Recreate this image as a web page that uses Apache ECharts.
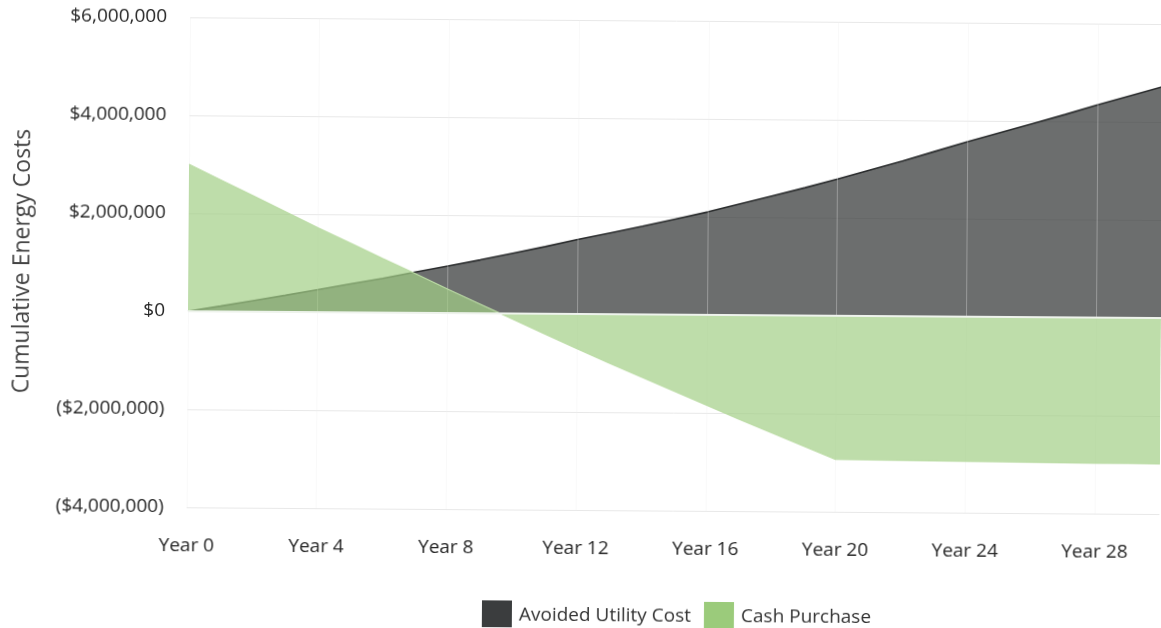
<!DOCTYPE html>
<html>
<head>
<meta charset="utf-8">
<script src="https://cdn.jsdelivr.net/npm/echarts@6/dist/echarts.min.js"></script>
<style>
  html, body { margin: 0; padding: 0; background: #ffffff; }
  #chart { width: 1161px; height: 628px; transform: rotate(0.4deg); transform-origin: 50% 50%; }
</style>
</head>
<body>
<div id="chart"></div>
<script>
// Cumulative energy costs over a 30-year horizon (USD)
const years = Array.from({ length: 31 }, (_, i) => 'Year ' + i);

const avoidedUtilityCost = [
  0, 110000, 225000, 340000, 460000, 580000, 700000, 830000, 960000, 1090000,
  1230000, 1370000, 1520000, 1660000, 1800000, 1950000, 2100000, 2270000, 2440000, 2610000,
  2790000, 2980000, 3170000, 3370000, 3570000, 3760000, 3950000, 4140000, 4340000, 4530000,
  4720000
];

const cashPurchase = [
  3000000, 2680000, 2360000, 2040000, 1720000, 1410000, 1100000, 800000, 490000, 190000,
  -110000, -410000, -710000, -1000000, -1280000, -1560000, -1840000, -2120000, -2390000, -2660000,
  -2930000, -2935000, -2940000, -2945000, -2950000, -2955000, -2960000, -2965000, -2970000, -2975000,
  -2980000
];

const yTicks = { min: -4000000, max: 6000000, step: 2000000 };

function money(v) {
  const s = '$' + Math.abs(v).toLocaleString('en-US');
  return v < 0 ? '(' + s + ')' : s;
}

const FONT = '"Open Sans", "Noto Sans", sans-serif';
const chart = echarts.init(document.getElementById('chart'), null, { renderer: 'canvas' });

chart.setOption({
  animation: false,
  backgroundColor: '#ffffff',
  textStyle: { fontFamily: FONT },
  grid: { left: 188, right: -7, top: 20, bottom: 118, containLabel: false },
  legend: {
    left: 479,
    top: 596,
    icon: 'rect',
    itemWidth: 30,
    itemHeight: 29,
    itemGap: 13,
    textStyle: { fontSize: 19, color: '#333333', fontFamily: FONT, padding: [0, 0, 0, 2] },
    data: ['Avoided Utility Cost', 'Cash Purchase']
  },
  xAxis: {
    type: 'category',
    data: years,
    boundaryGap: false,
    z: 3,
    axisLine: { show: false },
    axisTick: { show: false },
    axisLabel: { interval: 3, margin: 29, fontSize: 19, color: '#262626', fontFamily: FONT },
    splitLine: { show: true, interval: 3, lineStyle: { color: '#eeeeee', width: 1, opacity: 0.35 } }
  },
  yAxis: {
    type: 'value',
    min: yTicks.min,
    max: yTicks.max,
    interval: yTicks.step,
    name: 'Cumulative Energy Costs',
    nameLocation: 'middle',
    nameRotate: 90,
    nameGap: 154,
    nameTextStyle: { fontSize: 23, color: '#444444', fontFamily: FONT },
    axisLine: { show: false },
    axisTick: { show: false },
    axisLabel: { margin: 23, fontSize: 19, color: '#262626', fontFamily: FONT, formatter: money },
    splitLine: { lineStyle: { color: '#e8e8e8', width: 1 } }
  },
  series: [
    {
      name: 'Avoided Utility Cost',
      type: 'line',
      data: avoidedUtilityCost,
      symbol: 'none',
      color: '#3b3d3e',
      lineStyle: { color: '#2a2c2d', width: 1.6 },
      areaStyle: { color: '#3b3d3e', opacity: 0.75, origin: 0 },
      z: 2
    },
    {
      name: 'Cash Purchase',
      type: 'line',
      data: cashPurchase,
      symbol: 'none',
      color: '#9bcb7b',
      lineStyle: { color: '#bcdca6', width: 1.2 },
      areaStyle: { color: '#a3cf86', opacity: 0.7, origin: 0 },
      z: 3,
      markLine: {
        silent: true,
        symbol: 'none',
        label: { show: false },
        lineStyle: { color: '#eef3ec', width: 2, type: 'solid' },
        data: [{ yAxis: 0 }]
      }
    }
  ]
});
</script>
</body>
</html>
